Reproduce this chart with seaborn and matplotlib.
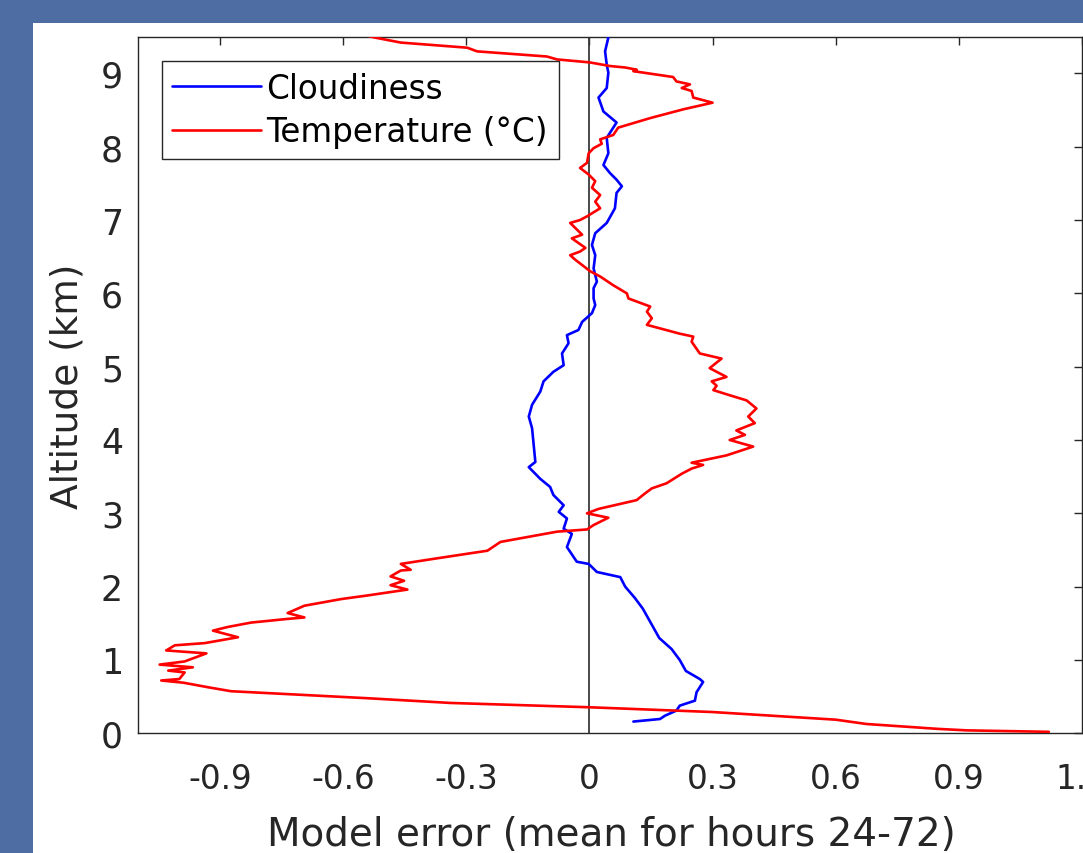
import matplotlib
matplotlib.use("Agg")
import matplotlib.pyplot as plt
import seaborn as sns
import pandas as pd
from matplotlib.patches import Rectangle

# ---- data ----
temp_error = [1.12, 0.92, 0.85, 0.675, 0.60, 0.30, 0.0, -0.339, -0.54, -0.874, -0.93, -0.99,
              -1.044, -1.0, -0.987, -1.027, -0.967, -1.048, -0.987, -0.934, -1.032, -1.011,
              -0.938, -0.857, -0.918, -0.882, -0.825, -0.736, -0.695, -0.736, -0.695, -0.606,
              -0.541, -0.444, -0.485, -0.452, -0.485, -0.46, -0.436, -0.46, -0.379, -0.249,
              -0.217, -0.079, -0.006,
              0.01, 0.046, -0.006, 0.022, 0.115, 0.135, 0.152, 0.188, 0.225, 0.249, 0.277,
              0.249, 0.334, 0.399, 0.342, 0.379, 0.358, 0.403, 0.387, 0.407, 0.383, 0.342,
              0.302, 0.31, 0.298, 0.334, 0.293, 0.322, 0.269, 0.249, 0.253, 0.22, 0.14,
              0.152, 0.14, 0.148, 0.095,
              0.091, 0.058, 0.026, 0.002, -0.035, -0.047, -0.023, -0.01, -0.043, -0.018,
              -0.047, -0.023, -0.006, 0.026, 0.014, 0.026, 0.006, 0.014, -0.002, -0.023,
              -0.006, -0.002, 0.01, 0.03, 0.026, 0.058, 0.07, 0.148, 0.229, 0.30, 0.253,
              0.249, 0.225, 0.245, 0.212, 0.204, 0.107, 0.115, 0.087, 0.05, 0.0,
              -0.079, -0.104, -0.274, -0.298, -0.46, -0.525, -0.545]
temp_alt = [0.02, 0.04, 0.06, 0.127, 0.186, 0.29, 0.355, 0.414, 0.478, 0.574, 0.628, 0.69,
            0.72, 0.74, 0.83, 0.855, 0.90, 0.937, 0.98, 1.09, 1.13, 1.20,
            1.23, 1.31, 1.40, 1.45, 1.51, 1.56, 1.58, 1.64, 1.74, 1.83,
            1.88, 1.96, 2.02, 2.08, 2.14, 2.22, 2.23, 2.31, 2.38, 2.49,
            2.61, 2.75, 2.78,
            2.84, 2.94, 3.0, 3.06, 3.18, 3.27, 3.34, 3.41, 3.54, 3.61, 3.66,
            3.69, 3.79, 3.91, 4.0, 4.07, 4.13, 4.23, 4.32, 4.43, 4.54, 4.61,
            4.68, 4.74, 4.80, 4.86, 4.98, 5.11, 5.18, 5.34, 5.41, 5.45, 5.57,
            5.66, 5.75, 5.82, 5.93,
            6.0, 6.11, 6.23, 6.30, 6.46, 6.52, 6.57, 6.62, 6.75, 6.80,
            6.96, 7.0, 7.05, 7.16, 7.25, 7.34, 7.44, 7.53, 7.62, 7.71,
            7.78, 7.91, 7.98, 8.04, 8.10, 8.16, 8.26, 8.39, 8.51, 8.60, 8.67,
            8.76, 8.80, 8.85, 8.89, 8.95, 9.03, 9.05, 9.08, 9.10, 9.15,
            9.19, 9.23, 9.30, 9.35, 9.42, 9.49, 9.52]

cloud_error = [0.107, 0.172, 0.184, 0.212, 0.22, 0.257, 0.261, 0.277, 0.269, 0.235, 0.22,
               0.20, 0.17, 0.15, 0.13, 0.11, 0.087, 0.075, 0.018, -0.002, -0.031, -0.055,
               -0.043, -0.063, -0.055, -0.075, -0.063, -0.088, -0.096, -0.12, -0.148, -0.132,
               -0.136, -0.14, -0.148, -0.14, -0.12, -0.112, -0.088, -0.063, -0.067, -0.051,
               -0.055, -0.027, -0.018, 0.006, 0.014, 0.01, 0.01, 0.018, 0.01, 0.014, 0.006,
               0.014, 0.042, 0.062, 0.066, 0.079, 0.066, 0.05, 0.034, 0.046, 0.042, 0.05,
               0.066, 0.034, 0.022, 0.042, 0.046, 0.042, 0.038, 0.046, 0.043]
cloud_alt = [0.16, 0.195, 0.24, 0.31, 0.377, 0.445, 0.56, 0.70, 0.74, 0.85, 1.0,
             1.15, 1.3, 1.5, 1.7, 1.85, 2.0, 2.13, 2.2, 2.31, 2.34, 2.54,
             2.72, 2.79, 2.93, 3.02, 3.11, 3.25, 3.36, 3.47, 3.63, 3.70,
             3.93, 4.16, 4.32, 4.48, 4.66, 4.80, 4.93, 5.02, 5.18, 5.32,
             5.43, 5.50, 5.61, 5.73, 5.84, 5.93, 6.07, 6.16, 6.34, 6.52, 6.66,
             6.82, 6.96, 7.16, 7.37, 7.46, 7.55, 7.64, 7.75, 7.91, 8.12, 8.19,
             8.33, 8.48, 8.67, 8.80, 9.01, 9.12, 9.30, 9.49, 9.52]

x_ticks = [-0.9, -0.6, -0.3, 0, 0.3, 0.6, 0.9, 1.2]
x_tick_labels = ["-0.9", "-0.6", "-0.3", "0", "0.3", "0.6", "0.9", "1.2"]
y_ticks = [0, 1, 2, 3, 4, 5, 6, 7, 8, 9]
series_names = ["Cloudiness", "Temperature (\u00b0C)"]

# ---- figure ----
sns.set_style("white")
plt.rcParams["font.family"] = ["DejaVu Sans"]
W, H = 1083, 854
fig = plt.figure(figsize=(W / 100, H / 100), dpi=100)
fig.patch.set_facecolor("#4e6da2")
fig.patches.append(Rectangle((33 / W, 0), 1 - 33 / W, (H - 24) / H,
                             transform=fig.transFigure, facecolor="white",
                             edgecolor="none", zorder=-5))

ax = fig.add_axes([138.3 / W, (H - 734.3) / H, (1081.7 - 138.3) / W, (734.3 - 37.7) / H])
ax.set_facecolor("white")

ax.axvline(0, color="#3a3a3a", lw=1.3, zorder=1)

cloud_df = pd.DataFrame({"err": cloud_error, "alt": cloud_alt})
temp_df = pd.DataFrame({"err": temp_error, "alt": temp_alt})
sns.lineplot(data=cloud_df, x="err", y="alt", orient="y", sort=False, estimator=None,
             color="#0000ff", lw=1.9, ax=ax, label=series_names[0], zorder=3)
sns.lineplot(data=temp_df, x="err", y="alt", orient="y", sort=False, estimator=None,
             color="#ff0000", lw=1.9, ax=ax, label=series_names[1], zorder=3)

ax.set_xlim(-1.1, 1.2)
ax.set_ylim(0, 9.5)
ax.set_xticks(x_ticks)
ax.set_xticklabels(x_tick_labels)
ax.set_yticks(y_ticks)

ax.tick_params(axis="both", direction="in", length=6, width=1, color="#262626",
               top=True, right=True, labelcolor="#262626")
ax.tick_params(axis="x", labelsize=23.5, pad=21)
ax.tick_params(axis="y", labelsize=25, pad=11)
for s in ax.spines.values():
    s.set_color("#262626")
    s.set_linewidth(1)
    s.set_visible(True)

ax.set_xlabel("Model error (mean for hours 24-72)", fontsize=28, color="#262626")
ax.set_ylabel("Altitude (km)", fontsize=27, color="#262626")
ax.xaxis.set_label_coords(0.501, -0.1166)
ax.yaxis.set_label_coords(-0.056, 0.499)

leg = ax.legend(loc="upper left", bbox_to_anchor=(0.0248, 0.9655), borderaxespad=0,
                fancybox=False, framealpha=1, edgecolor="#262626", fontsize=23.5,
                handlelength=2.7, handletextpad=0.18, labelspacing=0.32, borderpad=0.33)
leg.get_frame().set_linewidth(1)
for t in leg.get_texts():
    t.set_color("#000000")

fig.savefig("out.png", dpi=100, facecolor=fig.get_facecolor())
